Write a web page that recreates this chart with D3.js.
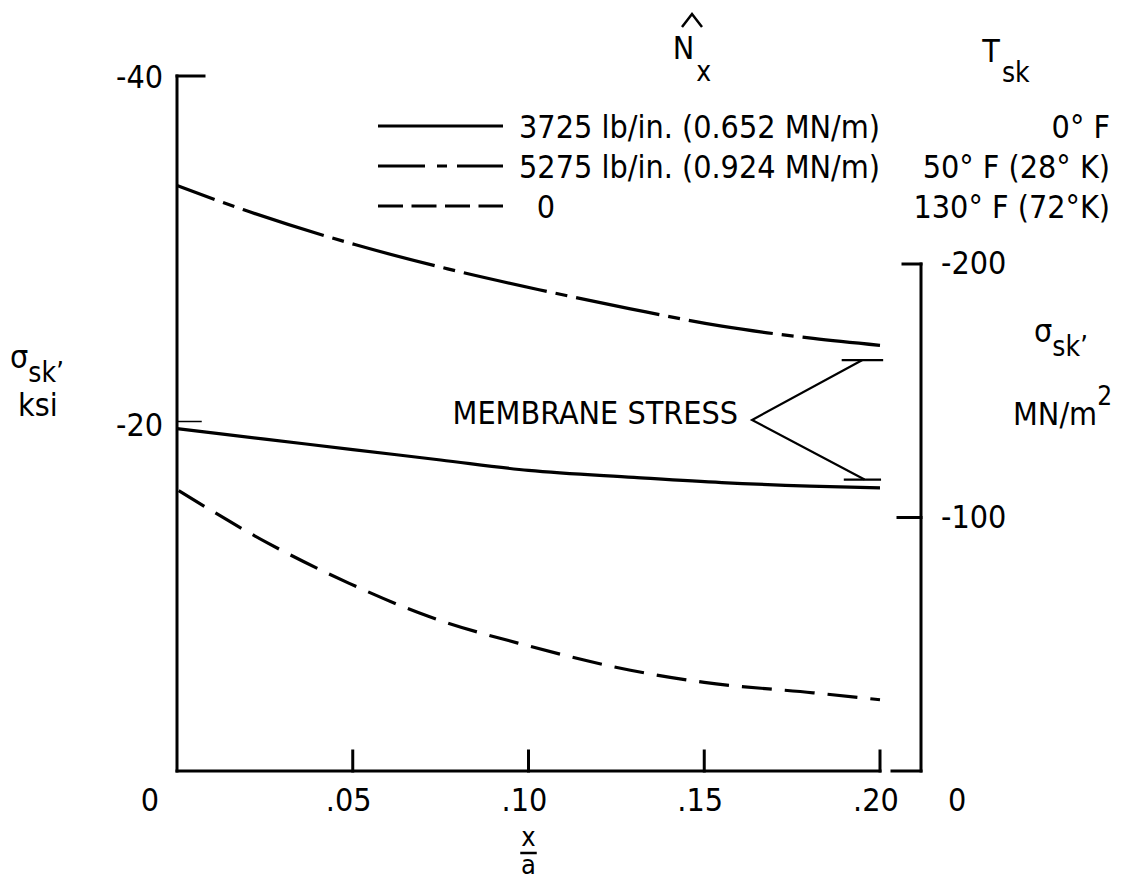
<!DOCTYPE html>
<html>
<head>
<meta charset="utf-8">
<script src="https://cdn.jsdelivr.net/npm/d3@7"></script>
<style>
  body { margin: 0; background: #fff; }
  text { font-family: "DejaVu Sans Condensed", "DejaVu Sans", sans-serif; fill: #000; }
</style>
</head>
<body>
<svg id="chart"></svg>
<script>
// valeurs (x/a, contrainte en ksi)
const xSolid = [0, 0.025, 0.05, 0.075, 0.10, 0.13, 0.155, 0.18, 0.20];
const sigmaSolid = [-19.7, -19.1, -18.5, -17.9, -17.3, -16.9, -16.6, -16.4, -16.3];

const xDashDot = [0, 0.019, 0.0506, 0.077, 0.103, 0.129, 0.155, 0.181, 0.20];
const sigmaDashDot = [-33.7, -32.3, -30.3, -28.9, -27.7, -26.6, -25.6, -24.9, -24.5];

const xDashed = [0, 0.026, 0.049, 0.0715, 0.10, 0.129, 0.15, 0.181, 0.20];
const sigmaDashed = [-16.2, -13.1, -10.8, -8.9, -7.2, -5.8, -5.1, -4.5, -4.1];

const xTicks = [0.05, 0.10, 0.15, 0.20];
const xTickLabels = ['.05', '.10', '.15', '.20'];
const leftTicks = [-40, -20];
const rightTicks = [-200, -100];

const loads = ['3725 lb/in. (0.652 MN/m)', '5275 lb/in. (0.924 MN/m)', '0'];
const temps = ['0° F', '50° F (28° K)', '130° F (72°K)'];

// annotation "MEMBRANE STRESS" (en unités du graphique)
const membraneUpper = -23.65;
const membraneLower = -16.6;
const membraneApex = [0.1636, -20.2];

const width = 1128, height = 883;
const svg = d3.select('#chart').attr('width', width).attr('height', height);

const x = d3.scaleLinear().domain([0, 0.20]).range([177, 880]);
const yL = d3.scaleLinear().domain([0, -40]).range([771, 76]);
const yR = d3.scaleLinear().domain([0, -200]).range([771, 264]);

const axisColor = '#000';
const g = svg.append('g');

function seg(x1, y1, x2, y2, w) {
    g.append('line')
        .attr('x1', x1).attr('y1', y1).attr('x2', x2).attr('y2', y2)
        .attr('stroke', axisColor).attr('stroke-width', w || 3)
        .attr('stroke-linecap', 'square');
}

// axe gauche
seg(x(0), yL(-40), x(0), yL(0));
seg(x(0), yL(-40), x(0) + 27, yL(-40));
seg(x(0), yL(-20) - 2, x(0) + 24, yL(-20) - 2, 1.5);
leftTicks.forEach(v => {
    g.append('text')
        .attr('x', x(0) - 14).attr('y', yL(v) + 12)
        .attr('text-anchor', 'end').attr('font-size', 32)
        .text(v);
});

// axe des x
seg(x(0), yL(0), x(0.20), yL(0));
xTicks.forEach((v, i) => {
    seg(x(v), yL(0), x(v), yL(0) - 20);
    g.append('text')
        .attr('x', x(v) - 4).attr('y', yL(0) + 40)
        .attr('text-anchor', 'middle').attr('font-size', 32)
        .text(xTickLabels[i]);
});
g.append('text').attr('x', 150).attr('y', yL(0) + 40)
    .attr('text-anchor', 'middle').attr('font-size', 32).text('0');

// titre axe x : x / a
const xl = x(0.10);
g.append('text').attr('x', xl).attr('y', 846).attr('text-anchor', 'middle').attr('font-size', 27).text('x');
seg(xl - 7, 853, xl + 7, 853, 2.5);
g.append('text').attr('x', xl).attr('y', 874).attr('text-anchor', 'middle').attr('font-size', 27).text('a');

// axe droit
const xr = 921;
seg(xr, yR(-200), xr, yR(0));
seg(xr - 18, yR(-200), xr, yR(-200));
seg(xr - 23, yR(-100), xr, yR(-100));
seg(xr - 29, yR(0), xr, yR(0));
rightTicks.forEach(v => {
    g.append('text')
        .attr('x', xr + 20).attr('y', yR(v) + 10)
        .attr('font-size', 32)
        .text(v);
});
g.append('text').attr('x', xr + 27).attr('y', yR(0) + 40).attr('font-size', 32).text('0');

// libellés des axes
const lab = svg.append('g').attr('font-size', 32);
lab.append('text').attr('x', 10).attr('y', 368).text('σ')
    .append('tspan').attr('font-size', 28).attr('dy', 14).text('sk’');
lab.append('text').attr('x', 18).attr('y', 416).text('ksi');

lab.append('text').attr('x', 1034).attr('y', 342).text('σ')
    .append('tspan').attr('font-size', 28).attr('dy', 14).text('sk’');
lab.append('text').attr('x', 1013).attr('y', 425).text('MN/m')
    .append('tspan').attr('font-size', 26).attr('dy', -20).text('2');

// en-têtes de légende
lab.append('text').attr('x', 692).attr('y', 59).attr('text-anchor', 'middle').text('N')
    .append('tspan').attr('font-size', 28).attr('dy', 22).attr('dx', 2).text('x');
svg.append('path')
    .attr('d', 'M682,27 L692,14 L702,27')
    .attr('fill', 'none').attr('stroke', '#000').attr('stroke-width', 2.5);
lab.append('text').attr('x', 1006).attr('y', 62).attr('text-anchor', 'middle').text('T')
    .append('tspan').attr('font-size', 28).attr('dy', 20).attr('dx', 2).text('sk');

// courbes
const line = d3.line()
    .x(d => x(d[0]))
    .y(d => yL(d[1]))
    .curve(d3.curveMonotoneX);

const series = [
    { xs: xSolid, ys: sigmaSolid, dash: null, offset: 0, legendDash: null },
    { xs: xDashDot, ys: sigmaDashDot, dash: '85,9,12,9', offset: 45, legendDash: '47,12,10,10' },
    { xs: xDashed, ys: sigmaDashed, dash: '30,13', offset: -2, legendDash: '25,8.5' }
];

series.forEach(s => {
    svg.append('path')
        .datum(d3.zip(s.xs, s.ys))
        .attr('d', line)
        .attr('fill', 'none')
        .attr('stroke', '#000')
        .attr('stroke-width', 3.2)
        .attr('stroke-dasharray', s.dash)
        .attr('stroke-dashoffset', s.offset);
});

// légende
const legendY = [126, 166, 206];
series.forEach((s, i) => {
    svg.append('line')
        .attr('x1', 378).attr('x2', 503)
        .attr('y1', legendY[i]).attr('y2', legendY[i])
        .attr('stroke', '#000').attr('stroke-width', 3)
        .attr('stroke-dasharray', s.legendDash);
    lab.append('text')
        .attr('x', i === 2 ? 546 : 519)
        .attr('y', legendY[i] + 12)
        .attr('text-anchor', i === 2 ? 'middle' : 'start')
        .text(loads[i]);
    lab.append('text')
        .attr('x', 1110)
        .attr('y', legendY[i] + 12)
        .attr('text-anchor', 'end')
        .text(temps[i]);
});

// annotation contrainte de membrane
lab.append('text')
    .attr('x', x(membraneApex[0]) - 14).attr('y', yL(membraneApex[1]) + 4)
    .attr('text-anchor', 'end')
    .text('MEMBRANE STRESS');
const ann = svg.append('g').attr('stroke', '#000').attr('stroke-width', 2.2).attr('fill', 'none');
ann.append('path')
    .attr('d', d3.line()([
        [x(0.195), yL(membraneUpper)],
        [x(membraneApex[0]), yL(membraneApex[1])],
        [x(0.1956), yL(membraneLower) - 3]
    ]));
ann.append('line')
    .attr('x1', x(0.1891)).attr('x2', x(0.2009))
    .attr('y1', yL(membraneUpper)).attr('y2', yL(membraneUpper));
ann.append('line')
    .attr('x1', x(0.1897)).attr('x2', x(0.2003))
    .attr('y1', yL(membraneLower) - 3).attr('y2', yL(membraneLower) - 3);
</script>
</body>
</html>
